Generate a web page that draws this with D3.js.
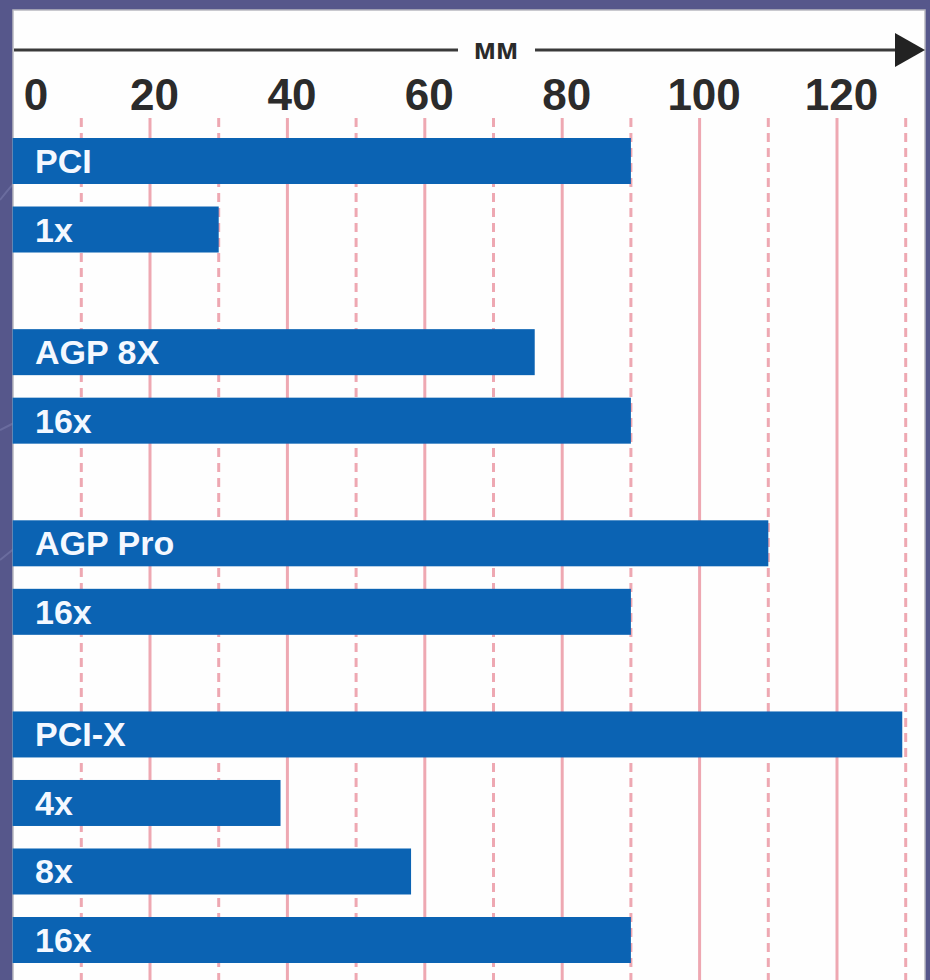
<!DOCTYPE html>
<html>
<head>
<meta charset="utf-8">
<script src="https://cdn.jsdelivr.net/npm/d3@7"></script>
<style>
  body { margin: 0; background: #56578b; }
  svg { display: block; }
</style>
</head>
<body>
<div id="chart"></div>
<script>
// slot names and lengths (mm)
const labels = ["PCI", "1x", "AGP 8X", "16x", "AGP Pro", "16x", "PCI-X", "4x", "8x", "16x"];
const values = [90, 30, 76, 90, 110, 90, 129.5, 39, 58, 90];
const groups = [0, 0, 1, 1, 2, 2, 3, 3, 3, 3];
const tickValues = [0, 20, 40, 60, 80, 100, 120];
const gridValues = [10, 20, 30, 40, 50, 60, 70, 80, 90, 100, 110, 120, 130];
const unit = "мм";

const W = 930, H = 980;
const groupGap = 0.79;
const font = "Liberation Sans Narrow, Arial Narrow, sans-serif";

const svg = d3.select("#chart")
    .append("svg")
        .attr("width", W)
        .attr("height", H);

// background with a few faint swooshes
svg.append("rect")
    .attr("width", W)
    .attr("height", H)
    .attr("fill", "#56578b");

const swoosh = d3.line().curve(d3.curveBasis);
[[[0, 200], [40, 150], [120, 120]], [[0, 430], [60, 400], [140, 380]], [[0, 560], [50, 520], [110, 470]]]
    .forEach(p => svg.append("path")
        .attr("d", swoosh(p))
        .attr("fill", "none")
        .attr("stroke", "#6a6c9e")
        .attr("stroke-width", 2));

// white panel
svg.append("rect")
    .attr("x", 13)
    .attr("y", 10)
    .attr("width", 912)
    .attr("height", H)
    .attr("fill", "#fefefe")
    .attr("stroke", "#b8b8c0")
    .attr("stroke-width", 1.5);

const x = d3.scaleLinear()
    .domain([0, 120])
    .range([12.6, 837]);

const y = d3.scaleLinear()
    .domain([0, 9 + 3 * groupGap])
    .range([138, 917]);

const barH = 46;
const rowPos = (d, i) => y(i + groups[i] * groupGap);

// grid lines
svg.append("g")
    .selectAll("line")
    .data(gridValues)
    .enter()
    .append("line")
        .attr("x1", d => x(d))
        .attr("x2", d => x(d))
        .attr("y1", 118)
        .attr("y2", H)
        .attr("stroke", "#eea8b2")
        .attr("stroke-width", 3)
        .attr("stroke-dasharray", d => d % 20 === 0 ? null : "9,6");

// top arrow axis
const axisY = 50;
svg.append("line")
    .attr("x1", 14)
    .attr("x2", 458)
    .attr("y1", axisY)
    .attr("y2", axisY)
    .attr("stroke", "#3a3a3a")
    .attr("stroke-width", 3);

svg.append("line")
    .attr("x1", 535)
    .attr("x2", 900)
    .attr("y1", axisY)
    .attr("y2", axisY)
    .attr("stroke", "#3a3a3a")
    .attr("stroke-width", 3);

svg.append("path")
    .attr("d", `M895,${axisY - 17} L925,${axisY} L895,${axisY + 17} Z`)
    .attr("fill", "#222");

svg.append("text")
    .attr("x", 496)
    .attr("y", axisY + 9)
    .attr("text-anchor", "middle")
    .attr("font-family", font)
    .attr("font-weight", "bold")
    .attr("font-size", 30)
    .attr("fill", "#2a2a2a")
    .text(unit);

// tick labels
const axis = d3.axisTop(x)
    .tickValues(tickValues)
    .tickSize(0)
    .tickPadding(0);

const axisG = svg.append("g")
    .attr("transform", "translate(0,110)")
    .call(axis);

axisG.select(".domain").remove();
axisG.selectAll("text")
    .attr("font-family", font)
    .attr("font-weight", "bold")
    .attr("font-size", 44)
    .attr("fill", "#2b2b2b")
    .attr("dx", d => d === 0 ? 23 : 4);

// bars
const bars = svg.append("g")
    .selectAll("g")
    .data(values)
    .enter()
    .append("g")
        .attr("transform", (d, i) => `translate(0,${rowPos(d, i)})`);

bars.append("rect")
    .attr("x", x(0))
    .attr("width", d => x(d) - x(0))
    .attr("height", barH)
    .attr("fill", "#0b63b3");

bars.append("text")
    .attr("x", 35)
    .attr("y", barH / 2 + 12)
    .attr("font-family", font)
    .attr("font-weight", "bold")
    .attr("font-size", 34)
    .attr("fill", "#f4f8ff")
    .text((d, i) => labels[i]);
</script>
</body>
</html>
